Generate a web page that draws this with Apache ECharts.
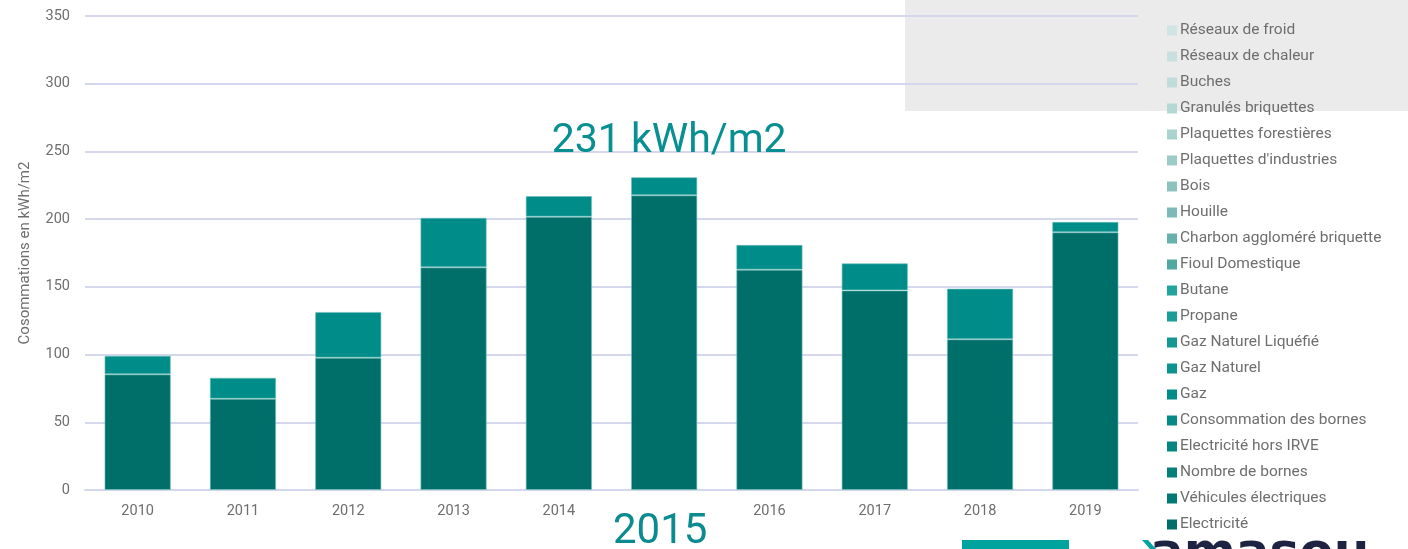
<!DOCTYPE html>
<html>
<head>
<meta charset="utf-8">
<script src="https://cdn.jsdelivr.net/npm/echarts@6/dist/echarts.min.js"></script>
<style>
html,body{margin:0;padding:0;background:#fff;}
#chart{width:1408px;height:549px;}
</style>
</head>
<body>
<div id="chart"></div>
<script>
const years = ['2010','2011','2012','2013','2014','2015','2016','2017','2018','2019'];
const electricite = [85.4, 67.4, 97.7, 164.4, 201.8, 217.6, 162.7, 147.4, 111.3, 190.3];
const gaz = [13.8, 15.5, 33.8, 36.6, 15.3, 13.4, 18.3, 20.0, 37.4, 7.7];
const highlightYear = '2015';
const yTicks = [0, 50, 100, 150, 200, 250, 300, 350];
// legend entries, bottom of stack first
const seriesNames = [
  'Electricité', 'Véhicules électriques', 'Nombre de bornes', 'Electricité hors IRVE',
  'Consommation des bornes', 'Gaz', 'Gaz Naturel', 'Gaz Naturel Liquéfié', 'Propane', 'Butane',
  'Fioul Domestique', 'Charbon aggloméré briquette', 'Houille', 'Bois', "Plaquettes d'industries",
  'Plaquettes forestières', 'Granulés briquettes', 'Buches', 'Réseaux de chaleur', 'Réseaux de froid'
];
const seriesColors = [
  '#006e69', '#027873', '#037f7a', '#048580',
  '#058a85', '#008c88', '#0b948d', '#129891', '#1a9e97', '#22a39c',
  '#4fa8a2', '#67b1ac', '#7bbab6', '#8cc3bf', '#9ccbc8',
  '#aad2cf', '#b5d8d5', '#bfdcda', '#c8e0df', '#d0e4e4'
];
const seriesValues = { 'Electricité': electricite, 'Gaz': gaz };

const hlIndex = years.indexOf(highlightYear);
const hlTotal = Math.round(electricite[hlIndex] + gaz[hlIndex]);

const series = seriesNames.map((name, i) => {
  const vals = seriesValues[name] || years.map(() => null);
  const s = {
    name: name,
    type: 'bar',
    stack: 'total',
    barWidth: '63%',
    data: vals.slice(),
    itemStyle: { color: seriesColors[i], borderColor: 'rgba(110,190,186,0.6)', borderWidth: 1 },
    emphasis: { disabled: true }
  };
  if (name === 'Gaz') {
    s.data = vals.map((v, k) => k === hlIndex ? {
      value: v,
      label: {
        show: true, position: 'top', distance: 15, offset: [5, 0],
        formatter: hlTotal + ' kWh/m2',
        fontSize: 41, color: '#078f92', fontFamily: 'Roboto, sans-serif'
      }
    } : v);
  }
  return s;
});

const chart = echarts.init(document.getElementById('chart'), null, { renderer: 'canvas' });
chart.setOption({
  animation: false,
  backgroundColor: '#ffffff',
  textStyle: { fontFamily: 'Roboto, Liberation Sans, sans-serif' },
  graphic: [
    { type: 'rect', z: -10, shape: { x: 905, y: 0, width: 503, height: 111 }, style: { fill: '#ebebeb' } },
    { type: 'rect', z: 10, shape: { x: 962, y: 540, width: 107, height: 12 }, style: { fill: '#00a39d' } },
    { type: 'text', z: 10, left: 1150, top: 530, style: { text: 'amasou', fontSize: 50, fontWeight: 900, fill: '#1d2340', fontFamily: 'DejaVu Sans' } },
    { type: 'polygon', z: 11, shape: { points: [[1142, 540], [1148, 540], [1156, 549], [1150, 549]] }, style: { fill: '#00a39d' } }
  ],
  grid: { left: 85, right: 270, top: 16, bottom: 59, containLabel: false, outerBoundsMode: 'none' },
  legend: {
    orient: 'vertical',
    left: 1167,
    top: 22.5,
    padding: 0,
    height: 540,
    itemWidth: 10,
    itemHeight: 10,
    itemGap: 10,
    icon: 'rect',
    selectedMode: false,
    itemStyle: { borderWidth: 0 },
    data: seriesNames.slice().reverse(),
    textStyle: { fontSize: 15.5, color: '#6e6e6e', padding: [0, 0, 0, -2] }
  },
  xAxis: {
    type: 'category',
    data: years,
    axisLine: { lineStyle: { color: '#d5d8ec', width: 2 } },
    axisTick: { show: false },
    axisLabel: {
      margin: 14,
      fontSize: 14.5,
      color: '#6e6e6e',
      verticalAlign: 'top',
      formatter: v => v === highlightYear ? '{hl|' + v + '}' : v,
      rich: { hl: { fontSize: 42, color: '#0b8a90', padding: [7, 8, 0, 0], fontFamily: 'Roboto, sans-serif' } }
    }
  },
  yAxis: {
    type: 'value',
    min: yTicks[0],
    max: yTicks[yTicks.length - 1],
    interval: 50,
    name: 'Cosommations en kWh/m2',
    nameLocation: 'middle',
    nameGap: 52,
    nameTextStyle: { fontSize: 15, color: '#6e6e6e' },
    axisLabel: { fontSize: 14.5, color: '#6e6e6e', margin: 15 },
    axisLine: { show: false },
    axisTick: { show: false },
    splitLine: { lineStyle: { color: '#d5d8ec', width: 2 } }
  },
  series: series
});
</script>
</body>
</html>
